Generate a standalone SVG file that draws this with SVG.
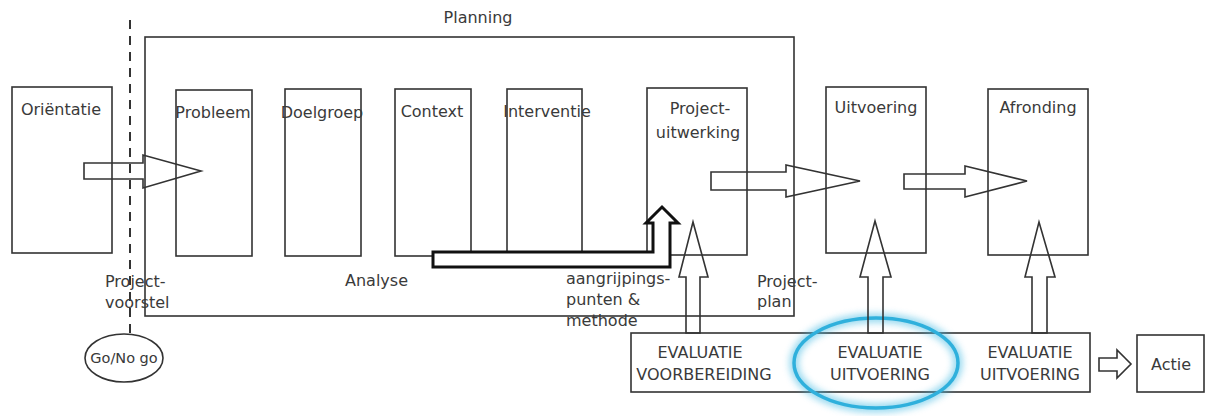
<svg xmlns="http://www.w3.org/2000/svg" width="1209" height="416" viewBox="0 0 1209 416">
  <defs>
    <style>
      .box { fill: none; stroke: #333; stroke-width: 1.6; }
      .arrow { fill: none; stroke: #333; stroke-width: 1.6; stroke-linejoin: miter; }
      .thick { fill: #fff; stroke: #111; stroke-width: 3; stroke-linejoin: miter; }
      text { font-family: "DejaVu Sans", Verdana, sans-serif; font-size: 16px; fill: #3a3a3a; }
      .mid { text-anchor: middle; }
      .caps { font-size: 16px; text-anchor: middle; }
    </style>
    <filter id="glow" x="-20%" y="-30%" width="140%" height="160%">
      <feGaussianBlur stdDeviation="3.5"/>
    </filter>
  </defs>

  <rect width="1209" height="416" fill="#fff"/>

  <!-- planning frame -->
  <g id="planning">
    <rect class="box" x="145" y="37" width="649" height="279"/>
    <text x="478" y="23" class="mid">Planning</text>
  </g>

  <!-- phase boxes -->
  <g id="orientatie">
    <rect class="box" x="12" y="87" width="100" height="166"/>
    <text x="61" y="115" class="mid">Oriëntatie</text>
  </g>
  <g id="probleem">
    <rect class="box" x="176" y="90" width="76" height="166"/>
    <text x="213" y="118" class="mid">Probleem</text>
  </g>
  <g id="doelgroep">
    <rect class="box" x="285" y="89" width="76" height="167"/>
    <text x="322" y="118" class="mid">Doelgroep</text>
  </g>
  <g id="context">
    <rect class="box" x="395" y="89" width="76" height="167"/>
    <text x="432" y="117" class="mid">Context</text>
  </g>
  <g id="interventie">
    <rect class="box" x="507" y="89" width="75" height="167"/>
    <text x="547" y="117" class="mid">Interventie</text>
  </g>
  <g id="projectuitwerking">
    <rect class="box" x="647" y="88" width="100" height="167"/>
    <text x="700" y="114" class="mid">Project-</text>
    <text x="698" y="138" class="mid">uitwerking</text>
  </g>
  <g id="uitvoering">
    <rect class="box" x="826" y="87" width="100" height="166"/>
    <text x="876" y="113" class="mid">Uitvoering</text>
  </g>
  <g id="afronding">
    <rect class="box" x="988" y="89" width="100" height="166"/>
    <text x="1038" y="113" class="mid">Afronding</text>
  </g>

  <!-- go / no go decision -->
  <g id="gonogo">
    <ellipse class="box" cx="124" cy="358" rx="39" ry="24"/>
    <text x="124" y="363" class="mid" style="font-size:14.5px">Go/No go</text>
  </g>

  <!-- evaluation strip -->
  <g id="evaluatie">
    <rect class="box" x="631" y="333" width="459" height="59"/>
    <text x="700" y="358" class="caps">EVALUATIE</text>
    <text x="704" y="380" class="caps">VOORBEREIDING</text>
    <text x="880" y="358" class="caps">EVALUATIE</text>
    <text x="880" y="380" class="caps">UITVOERING</text>
    <text x="1030" y="358" class="caps">EVALUATIE</text>
    <text x="1030" y="380" class="caps">UITVOERING</text>
  </g>
  <g id="highlight">
    <ellipse cx="876" cy="363" rx="82" ry="45" fill="none" stroke="#3cb8e2" stroke-width="9" opacity="0.55" filter="url(#glow)"/>
    <ellipse cx="876" cy="363" rx="82" ry="45" fill="none" stroke="#2fb0dc" stroke-width="3.5"/>
  </g>
  <g id="actie">
    <rect class="box" x="1137" y="335" width="67" height="57"/>
    <text x="1171" y="370" class="mid">Actie</text>
  </g>

  <!-- connectors -->
  <g id="connectors">
    <line x1="130" y1="20" x2="130" y2="334" stroke="#333" stroke-width="2" stroke-dasharray="9 7"/>
    <polygon class="arrow" points="84,163 143,163 143,155 201,171 143,188 143,179 84,179"/>
    <polygon class="arrow" points="711,172 786,172 786,165 860,181 786,197 786,190 711,190"/>
    <polygon class="arrow" points="904,174 965,174 965,166 1027,181 965,197 965,189 904,189"/>
    <polygon class="thick" points="433,252 653,252 653,223 646,223 662,207 678,223 670,223 670,267 433,267"/>
    <polygon class="arrow" points="686,333 686,277 679,277 693,222 708,277 700,277 700,333"/>
    <polygon class="arrow" points="868,333 868,277 860,277 875,221 891,277 883,277 883,333"/>
    <polygon class="arrow" points="1032,333 1032,277 1025,277 1039,222 1055,277 1047,277 1047,333"/>
    <polygon class="arrow" points="1099,358 1117,358 1117,350 1131,364 1117,378 1117,371 1099,371"/>
  </g>

  <!-- free labels -->
  <g id="labels">
    <text x="105" y="287">Project-</text>
    <text x="105" y="308">voorstel</text>
    <text x="345" y="286">Analyse</text>
    <text x="566" y="284">aangrijpings-</text>
    <text x="566" y="305">punten &amp;</text>
    <text x="566" y="326">methode</text>
    <text x="757" y="287">Project-</text>
    <text x="757" y="307">plan</text>
  </g>
</svg>
